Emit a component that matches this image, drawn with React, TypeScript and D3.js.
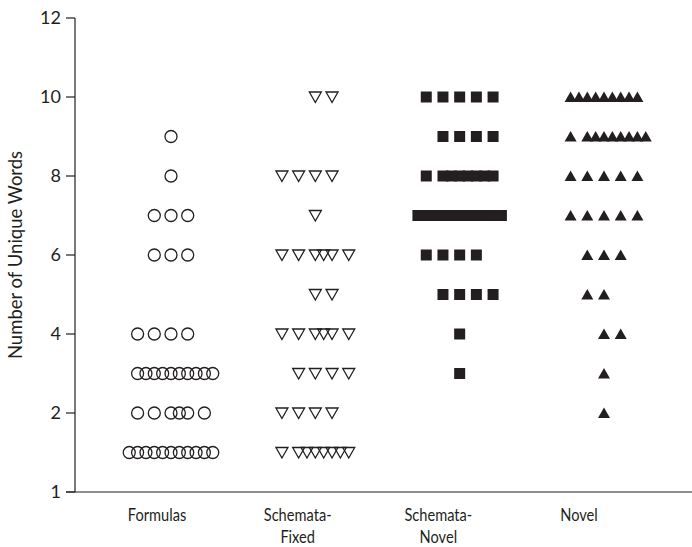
import React from "react";
import * as d3 from "d3";

const categories = ["Formulas", "Schemata-Fixed", "Schemata-Novel", "Novel"];
const categoryLabels = [["Formulas"], ["Schemata-", "Fixed"], ["Schemata-", "Novel"], ["Novel"]];
const markerKinds = ["openCircle", "openTriangleDown", "filledSquare", "filledTriangleUp"];

const yTickValues = [0, 2, 4, 6, 8, 10, 12];
const yTickLabels = ["1", "2", "4", "6", "8", "10", "12"];

// offsets are in half-slot units within each category column
const formulasRows = [
  { value: 9, offsets: [0] },
  { value: 8, offsets: [0] },
  { value: 7, offsets: [-2, 0, 2] },
  { value: 6, offsets: [-2, 0, 2] },
  { value: 4, offsets: [-4, -2, 0, 2] },
  { value: 3, offsets: [-4, -3, -2, -1, 0, 1, 2, 3, 4, 5] },
  { value: 2, offsets: [-4, -2, 0, 1, 2, 4] },
  { value: 1, offsets: [-5, -4, -3, -2, -1, 0, 1, 2, 3, 4, 5] },
];
const schemataFixedRows = [
  { value: 10, offsets: [0, 2] },
  { value: 8, offsets: [-4, -2, 0, 2] },
  { value: 7, offsets: [0] },
  { value: 6, offsets: [-4, -2, 0, 1, 2, 4] },
  { value: 5, offsets: [0, 2] },
  { value: 4, offsets: [-4, -2, 0, 1, 2, 4] },
  { value: 3, offsets: [-2, 0, 2, 4] },
  { value: 2, offsets: [-4, -2, 0, 2] },
  { value: 1, offsets: [-4, -2, -1, 0, 1, 2, 3, 4] },
];
const schemataNovelRows = [
  { value: 10, offsets: [-4, -2, 0, 2, 4] },
  { value: 9, offsets: [-2, 0, 2, 4] },
  { value: 8, offsets: [-4, -2, -1, 0, 1, 2, 3, 4] },
  { value: 7, offsets: [-5, -4, -3, -2, -1, 0, 1, 2, 3, 4, 5] },
  { value: 6, offsets: [-4, -2, 0, 2] },
  { value: 5, offsets: [-2, 0, 2, 4] },
  { value: 4, offsets: [0] },
  { value: 3, offsets: [0] },
];
const novelRows = [
  { value: 10, offsets: [-4, -3, -2, -1, 0, 1, 2, 3, 4] },
  { value: 9, offsets: [-4, -2, -1, 0, 1, 2, 3, 4, 5] },
  { value: 8, offsets: [-4, -2, 0, 2, 4] },
  { value: 7, offsets: [-4, -2, 0, 2, 4] },
  { value: 6, offsets: [-2, 0, 2] },
  { value: 5, offsets: [-2, 0] },
  { value: 4, offsets: [0, 2] },
  { value: 3, offsets: [0] },
  { value: 2, offsets: [0] },
];
const seriesRows = [formulasRows, schemataFixedRows, schemataNovelRows, novelRows];

const W = 692;
const H = 547;
const INK = "#231f20";
const FONT = "Lato, 'Open Sans', sans-serif";

function markerPath(kind: string): string {
  const p = d3.path();
  if (kind === "openCircle") {
    p.arc(0, 0, 6, 0, Math.PI * 2);
  } else if (kind === "openTriangleDown") {
    p.moveTo(-6, -5);
    p.lineTo(6, -5);
    p.lineTo(0, 5.5);
    p.closePath();
  } else if (kind === "filledSquare") {
    p.rect(-5.5, -5.5, 11, 11);
  } else {
    p.moveTo(0, -5.5);
    p.lineTo(6, 5);
    p.lineTo(-6, 5);
    p.closePath();
  }
  return p.toString();
}

export default function App() {
  const x = d3.scalePoint<string>().domain(categories).range([171, 604]);
  const labelX = d3.scalePoint<string>().domain(categories).range([157, 579]);
  const off = d3.scaleLinear().domain([0, 1]).range([0, 8.35]);
  const y = d3.scaleLinear().domain([0, 12]).range([492, 18]);
  const axisX = 75;
  const labelScale = 0.86;

  return (
    <svg width={W} height={H} style={{ position: "absolute", left: 0, top: 0, background: "#fff" }}>
      <rect x={0} y={0} width={W} height={H} fill="#fff" />
      {/* y axis */}
      <line x1={axisX} x2={axisX} y1={y(12)} y2={y(0)} stroke={INK} strokeWidth={1.2} />
      {yTickValues.map((v, i) => (
        <g key={v}>
          <line x1={axisX - 9} x2={axisX} y1={y(v)} y2={y(v)} stroke={INK} strokeWidth={1.2} />
          <text x={axisX - 14} y={y(v)} dy="0.36em" textAnchor="end" fontSize={18} fontFamily={FONT} fill={INK}>
            {yTickLabels[i]}
          </text>
        </g>
      ))}
      {/* x axis */}
      <line x1={axisX - 9} x2={W} y1={y(0)} y2={y(0)} stroke={INK} strokeWidth={1.2} />
      {categories.map((c, i) => (
        <g key={c} transform={`translate(${labelX(c)},0) scale(${labelScale},1)`}>
          <text x={0} y={521} textAnchor="middle" fontSize={17} fontFamily={FONT} fill={INK}>
            {categoryLabels[i].map((line, j) => (
              <tspan key={j} x={0} dy={j === 0 ? 0 : 22}>
                {line}
              </tspan>
            ))}
          </text>
        </g>
      ))}
      <text
        transform={`translate(22,${(y(0) + y(12)) / 2}) rotate(-90)`}
        textAnchor="middle"
        fontSize={18.5}
        fontFamily={FONT}
        fill={INK}
      >
        Number of Unique Words
      </text>
      {/* markers */}
      {categories.map((c, ci) => {
        const kind = markerKinds[ci];
        const d = markerPath(kind);
        const filled = kind.startsWith("filled");
        return (
          <g key={c}>
            {seriesRows[ci].flatMap((row) =>
              row.offsets.map((o, k) => (
                <path
                  key={`${row.value}-${k}`}
                  d={d}
                  transform={`translate(${(x(c) as number) + off(o)},${y(row.value)})`}
                  fill={filled ? INK : "none"}
                  stroke={INK}
                  strokeWidth={filled ? 0 : 1.3}
                />
              ))
            )}
          </g>
        );
      })}
    </svg>
  );
}
